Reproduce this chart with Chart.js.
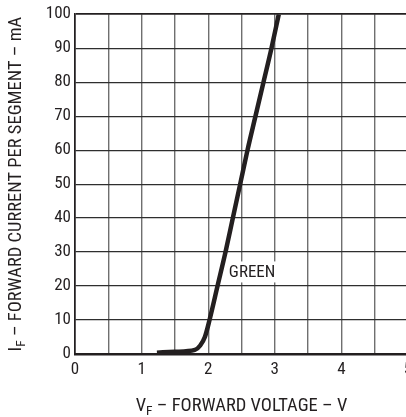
<!DOCTYPE html>
<html><head><meta charset="utf-8">
<script src="https://cdn.jsdelivr.net/npm/chart.js@4"></script>
<style>html,body{margin:0;padding:0;overflow:hidden;background:#fff}#wrap{width:420px;height:417px;position:relative}</style>
</head><body><div id="wrap"><canvas id="c"></canvas></div>
<script>
const voltage = [1.23, 1.5, 1.8, 1.88, 1.95, 2.02, 2.14, 2.26, 2.37, 2.48, 2.59, 2.71, 2.83, 2.95, 3.06];
const current = [0.4, 0.65, 1.2, 2.5, 5, 10, 20, 30, 40, 50, 60, 70, 80, 90, 100];
const xTickLabels = [0, 1, 2, 3, 4, 5];
const yTickLabels = [0, 10, 20, 30, 40, 50, 60, 70, 80, 90, 100];
const seriesName = 'GREEN';
const xTitleParts = ['V', 'F', ' – FORWARD VOLTAGE – V'];
const yTitleParts = ['I', 'F', ' – FORWARD CURRENT PER SEGMENT – mA'];

const FONT = "'Liberation Sans Narrow','Arial Narrow','Roboto Condensed',sans-serif";
const INK = '#231f20';

const points = voltage.map((v, i) => ({x: v, y: current[i]}));

function drawSubTitle(ctx, parts, size) {
  const [a, sub, rest] = parts;
  const subSize = size - 5;
  ctx.font = size + 'px ' + FONT;
  const wa = ctx.measureText(a).width;
  ctx.font = subSize + 'px ' + FONT;
  const ws = ctx.measureText(sub).width;
  ctx.font = size + 'px ' + FONT;
  const wr = ctx.measureText(rest).width;
  const total = wa + ws + wr;
  let x = -total / 2;
  ctx.fillText(a, x, 0); x += wa;
  ctx.font = subSize + 'px ' + FONT;
  ctx.fillText(sub, x, 4); x += ws;
  ctx.font = size + 'px ' + FONT;
  ctx.fillText(rest, x, 0);
}

const extras = {
  id: 'extras',
  afterDraw(chart) {
    const ctx = chart.ctx, a = chart.chartArea;
    const xs = chart.scales.x, ys = chart.scales.y;
    ctx.save();
    ctx.fillStyle = INK;
    ctx.textBaseline = 'alphabetic';
    ctx.textAlign = 'left';
    ctx.save();
    ctx.translate((a.left + a.right) / 2, 411);
    drawSubTitle(ctx, xTitleParts, 18.5);
    ctx.restore();
    ctx.save();
    ctx.translate(21, (a.top + a.bottom) / 2);
    ctx.rotate(-Math.PI / 2);
    drawSubTitle(ctx, yTitleParts, 18.5);
    ctx.restore();
    ctx.font = '17px ' + FONT;
    const lx = xs.getPixelForValue(2.31), ly = ys.getPixelForValue(24.3);
    const w = ctx.measureText(seriesName).width;
    ctx.fillStyle = '#fff';
    ctx.fillRect(lx - 2, ly - 10, w + 5, 21);
    ctx.fillStyle = INK;
    ctx.textBaseline = 'middle';
    ctx.fillText(seriesName, lx, ly + 1);
    ctx.restore();
  }
};

new Chart(document.getElementById('c'), {
  type: 'line',
  data: {
    datasets: [{
      label: seriesName,
      data: points,
      borderColor: INK,
      borderWidth: 4.5,
      pointRadius: 0,
      fill: false,
      cubicInterpolationMode: 'monotone',
      borderCapStyle: 'butt'
    }]
  },
  options: {
    responsive: true,
    maintainAspectRatio: false,
    animation: false,
    layout: {padding: {left: 0, top: 13, right: 12, bottom: 0}},
    plugins: {legend: {display: false}, tooltip: {enabled: false}},
    scales: {
      x: {
        type: 'linear', min: 0, max: 5,
        afterFit(s) { s.height = 63; },
        ticks: {
          stepSize: 0.5,
          autoSkip: false,
          maxRotation: 0,
          padding: 6,
          color: INK,
          font: {family: FONT, size: 17},
          callback: v => xTickLabels.includes(v) ? String(v) : ''
        },
        grid: {
          drawTicks: false,
          color: c => c.tick && c.tick.value === 0 ? INK : '#6f6f6f',
          lineWidth: c => c.tick && c.tick.value === 0 ? 1.5 : 1.4
        },
        border: {display: true, color: INK, width: 2.5}
      },
      y: {
        min: 0, max: 100,
        afterFit(s) { s.width = 75; },
        ticks: {
          stepSize: 10,
          padding: 4,
          color: INK,
          font: {family: FONT, size: 17},
          callback: v => yTickLabels.includes(v) ? String(v) : ''
        },
        grid: {
          drawTicks: false,
          color: c => c.tick && c.tick.value === 100 ? INK : '#2e2e2e',
          lineWidth: c => c.tick && c.tick.value === 100 ? 1.8 : 1.2
        },
        border: {display: true, color: INK, width: 1.5}
      }
    }
  },
  plugins: [extras]
});
</script></body></html>
